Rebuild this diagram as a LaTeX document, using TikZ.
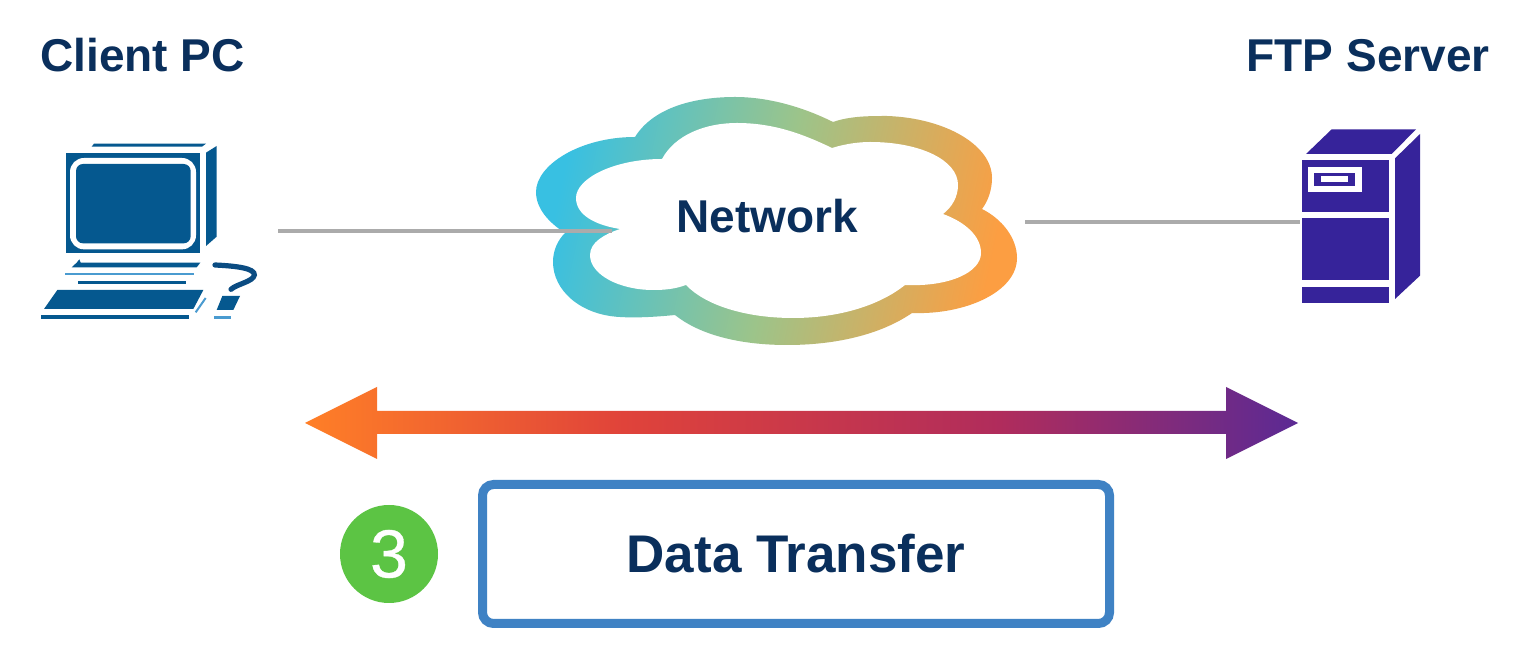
\documentclass[tikz,border=0pt]{standalone}
\usepackage{fontspec}
\setmainfont{Liberation Sans}
\newfontfamily\numfont[FakeBold=0.5]{Liberation Sans}
\definecolor{ink}{HTML}{0A2F5C}
\definecolor{pcblue}{HTML}{05588F}
\definecolor{pclight}{HTML}{4A9BD0}
\definecolor{qdark}{HTML}{0B4C82}
\definecolor{srv}{HTML}{36239A}
\definecolor{wire}{HTML}{ABABAB}
\definecolor{boxblue}{HTML}{3F82C4}
\definecolor{badge}{HTML}{5CC444}
\definecolor{cla}{HTML}{38C0E2}
\definecolor{clb}{HTML}{9CC48A}
\definecolor{clc}{HTML}{FC9E42}
\definecolor{ara}{HTML}{FF7F27}
\definecolor{arb}{HTML}{E0433A}
\definecolor{arc}{HTML}{B02C5C}
\definecolor{ard}{HTML}{5B2A94}
\pgfdeclarehorizontalshading{cloudgrad}{100bp}{color(0bp)=(cla); color(25bp)=(cla); color(50bp)=(clb); color(75bp)=(clc); color(100bp)=(clc)}
\pgfdeclarehorizontalshading{arrowgrad}{100bp}{color(0bp)=(ara); color(25bp)=(ara); color(41bp)=(arb); color(60bp)=(arc); color(75bp)=(ard); color(100bp)=(ard)}
\tikzset{
  title/.style={inner sep=0pt,text=ink,font=\fontsize{23}{27}\selectfont\bfseries},
  wireline/.style={draw=wire,line width=2pt},
  pcfill/.style={fill=pcblue},
  pcthin/.style={fill=pclight},
  srvfill/.style={fill=srv},
  framebox/.style={draw=boxblue,line width=4.5pt,rounded corners=5.5pt,fill=white,minimum width=313.5pt,minimum height=69.5pt,inner sep=0pt,text=ink,font=\fontsize{26.5}{30}\selectfont\bfseries},
  badgecirc/.style={circle,fill=badge,minimum size=49pt,inner sep=0pt,text=white,font=\fontsize{34}{36}\numfont},
}
\begin{document}
\begin{tikzpicture}[x=0.5pt,y=-0.5pt]
\useasboundingbox[fill=white] (0,0) rectangle (1536,672);
% client PC icon (coordinates of a 3x crop)
\begin{scope}[shift={(20,130)},x=0.16667pt,y=-0.16667pt]
  \fill[pcfill] (222,41)--(558,41)--(546,50)--(215,50)--cycle;
  \fill[pcfill] (138,68) rectangle (540,368);
  \fill[white,rounded corners=7pt] (150,84) rectangle (528,358);
  \fill[pcfill,rounded corners=3.5pt] (168,102) rectangle (512,340);
  \fill[pcfill] (558,68)--(590,48)--(590,320)--(558,348)--cycle;
  \fill[pcfill] (155,412)--(170,398)--(178,388)--(182,398)--(541,398)--(530,412)--cycle;
  \fill[pcthin] (135,430) rectangle (522,436);
  \fill[pcfill] (175,453) rectangle (498,463);
  \fill[pcfill] (112,480)--(550,480)--(520,537)--(72,537)--cycle;
  \draw[pclight,line width=1pt] (527,547)--(557,504);
  \fill[pcfill] (62,554) rectangle (508,566);
  \draw[qdark,line width=2.6pt,line cap=round] (585,405) .. controls (650,408) and (705,415) .. (703,435) .. controls (700,455) and (650,462) .. (633,478);
  \fill[pcfill] (607,498)--(660,498)--(640,540)--(590,540)--cycle;
  \fill[pcthin] (583,558) rectangle (634,566);
\end{scope}
% server icon (coordinates of a 3x crop)
\begin{scope}[shift={(1280,110)},x=0.16667pt,y=-0.16667pt]
  \fill[srvfill] (155,58)--(408,58)--(335,132)--(78,132)--cycle;
  \fill[srvfill] (420,72)--(420,497)--(345,567)--(345,145)--cycle;
  \fill[srvfill] (65,150) rectangle (328,305);
  \fill[white] (83,172) rectangle (245,245);
  \fill[srvfill] (102,190) rectangle (225,228);
  \fill[white] (123,198) rectangle (205,217);
  \fill[srvfill] (65,325) rectangle (328,510);
  \fill[srvfill] (65,530) rectangle (328,580);
\end{scope}
% cloud
\shade[shading=cloudgrad,shading angle=-12]
  (635,137) .. controls (655,105) and (700,97) .. (735,97)
  .. controls (770,97) and (805,108) .. (833,122)
  .. controls (850,116) and (870,116) .. (887,116)
  .. controls (945,118) and (992,145) .. (992,178)
  .. controls (992,190) and (988,201) .. (982,209)
  .. controls (1002,219) and (1017,238) .. (1017,258)
  .. controls (1017,292) and (965,315) .. (912,313)
  .. controls (880,335) and (835,345) .. (787,345)
  .. controls (740,345) and (700,335) .. (675,315)
  .. controls (655,317) and (635,318) .. (620,317)
  .. controls (580,315) and (553,290) .. (553,262)
  .. controls (553,250) and (558,240) .. (565,233)
  .. controls (548,222) and (536,208) .. (536,192)
  .. controls (536,165) and (580,137) .. (635,137) -- cycle;
\fill[white]
  (662,159) .. controls (675,135) and (705,123) .. (737,123)
  .. controls (775,123) and (805,135) .. (832,148)
  .. controls (845,144) and (858,142) .. (870,142)
  .. controls (920,142) and (958,160) .. (958,185)
  .. controls (958,197) and (952,207) .. (943,214)
  .. controls (965,222) and (981,236) .. (981,253)
  .. controls (981,272) and (950,287) .. (905,285)
  .. controls (880,305) and (840,318) .. (793,318)
  .. controls (745,318) and (705,305) .. (686,285)
  .. controls (675,289) and (665,290) .. (653,290)
  .. controls (620,290) and (590,275) .. (590,255)
  .. controls (590,242) and (605,234) .. (620,229)
  .. controls (595,225) and (576,215) .. (576,198)
  .. controls (576,178) and (615,159) .. (662,159) -- cycle;
\node[title] (net) at (767.5,216) {Network};
\node[title,anchor=west] (client) at (40,55) {Client PC};
\node[title,anchor=east] (server) at (1490,56) {FTP Server};
% connectors
\coordinate (pcport) at (278,231);
\coordinate (cloudin) at (612,231);
\coordinate (cloudout) at (1025,222);
\coordinate (srvport) at (1300,222);
\draw[wireline] (pcport) -- (cloudin);
\draw[wireline] (cloudout) -- (srvport);
% double arrow
\coordinate (tipl) at (305,423);
\coordinate (tipr) at (1298,423);
\shade[shading=arrowgrad]
  (tipl) -- (377,387) -- (377,411) -- (1226,411) -- (1226,387) -- (tipr)
  -- (1226,459) -- (1226,434) -- (377,434) -- (377,459) -- cycle;
\node[framebox] (xfer) at (796,554) {Data Transfer};
\node[badgecirc] (three) at (389,554) {3};
\end{tikzpicture}
\end{document}
